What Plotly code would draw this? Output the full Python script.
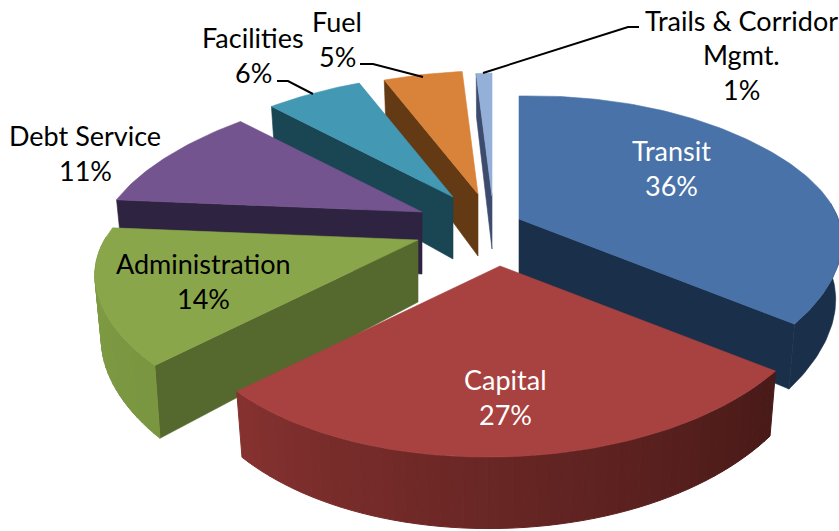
import math
import plotly.graph_objects as go

# ---- data ----
categories = ["Transit", "Capital", "Administration", "Debt Service",
              "Facilities", "Fuel", "Trails & Corridor Mgmt."]
shares = [36, 27, 14, 11, 6, 5, 1]
label_lines = [["Transit", "36%"], ["Capital", "27%"], ["Administration", "14%"],
               ["Debt Service", "11%"], ["Facilities", "6%"], ["Fuel", "5%"],
               ["Trails & Corridor", "Mgmt.", "1%"]]

# ---- styling / placement ----
W, H = 839, 531
RX, RY, PERSP, SHEAR, SHRINK, BULGE = 306.0, 149.6, 0.2166, 0.02, 0.98, 0.035
hub = [(519, 219), (500, 266), (418, 240), (422, 212), (453, 197), (478, 194), (492, 196)]
depth = [56, 56, 62, 62, 62, 62, 53]
top_col = ["#4872a8", "#a84240", "#8aa64a", "#74548f", "#4398b4", "#d98239", "#95b0d8"]
cut_col = ["#1a2f4a", "#4a1a18", "#55692f", "#2e2340", "#1a4553", "#633a13", "#3d4c6e"]
wall_start = [(26, 47, 74), (72, 26, 24), (122, 150, 64), (46, 35, 64), (26, 69, 83), (99, 58, 19), (61, 76, 110)]
wall_end = [(26, 47, 74), (134, 50, 48), (128, 156, 68), (46, 35, 64), (26, 69, 83), (99, 58, 19), (61, 76, 110)]
draw_order = [6, 5, 4, 3, 0, 2, 1]
label_pos = [(671, 35), (505, 35), (203, 35), (85, 35), (253, 35), (337, 35), (741, 34.5)]
label_y = [150, 379, 263, 135, 37, 21, 20]
label_col = ["white", "white", "black", "black", "black", "black", "black"]
FONT = "Lato"
FONT_SIZE = 27
leaders = [
    [(277, 81), (288, 81), (313, 94)],
    [(360, 64), (373, 64), (423, 77)],
    [(639, 27), (628, 27), (483, 73)],
]


def project(i, theta, radius=1.0, bottom=False):
    """theta: degrees clockwise from twelve o'clock, on the pie disc."""
    t = math.radians(theta)
    u, v = radius * math.sin(t), -radius * math.cos(t)
    w = 1 - PERSP * v
    x = RX * u / w * (1 + BULGE * abs(u) ** 6)
    y = RY * v / w - SHEAR * x
    hx, hy = hub[i]
    if bottom:
        return hx + x * SHRINK, hy + y + depth[i] / w
    return hx + x, hy + y


fig = go.Figure()


def poly(pts, color, lw=0.6):
    xs = [p[0] for p in pts] + [pts[0][0]]
    ys = [p[1] for p in pts] + [pts[0][1]]
    fig.add_trace(go.Scatter(x=xs, y=ys, mode="lines", fill="toself", fillcolor=color,
                             line=dict(color=color, width=lw), hoverinfo="skip",
                             showlegend=False))


starts = []
acc = 0
for s in shares:
    starts.append(acc * 3.6)
    acc += s

for i in draw_order:
    a0 = starts[i]
    a1 = a0 + shares[i] * 3.6
    for ang, normal in ((a0, a0 - 90), (a1, a1 + 90)):
        if -math.cos(math.radians(normal)) > 0.01:
            poly([project(i, ang, 0), project(i, ang), project(i, ang, 1, True),
                  project(i, ang, 0, True)], cut_col[i])
    n = max(6, int(shares[i] * 2))
    thetas = [a0 + (a1 - a0) * k / n for k in range(n + 1)]
    front = [t for t in thetas if -math.cos(math.radians(t)) >= -0.08]
    if wall_start[i] == wall_end[i]:
        if len(front) > 1:
            fine = [front[0] + (front[-1] - front[0]) * k / 40 for k in range(41)]
            poly([project(i, t) for t in fine] + [project(i, t, 1, True) for t in reversed(fine)],
                 "rgb(%d,%d,%d)" % wall_start[i])
    else:
        for k in range(len(front) - 1):
            t0, t1 = front[k], front[k + 1]
            f = (k + 0.5) / (len(front) - 1)
            rgb = tuple(int(wall_start[i][c] + (wall_end[i][c] - wall_start[i][c]) * f) for c in range(3))
            poly([project(i, t0), project(i, t1), project(i, t1, 1, True), project(i, t0, 1, True)],
                 "rgb(%d,%d,%d)" % rgb, lw=1)
    n = max(8, int(shares[i] * 3))
    pts = [project(i, a0, 0)] + [project(i, a0 + (a1 - a0) * k / n) for k in range(n + 1)]
    poly(pts, top_col[i])

for path in leaders:
    fig.add_trace(go.Scatter(x=[p[0] for p in path], y=[p[1] for p in path], mode="lines",
                             line=dict(color="black", width=2), hoverinfo="skip", showlegend=False))

for i, lines in enumerate(label_lines):
    for j, text in enumerate(lines):
        fig.add_annotation(x=label_pos[i][0], y=label_y[i] + j * label_pos[i][1], text=text,
                           xref="x", yref="y", showarrow=False, xanchor="center", yanchor="middle",
                           font=dict(family=FONT, size=FONT_SIZE, color=label_col[i]))

fig.update_layout(width=W, height=H, margin=dict(l=0, r=0, t=0, b=0), paper_bgcolor="white",
                  plot_bgcolor="white", showlegend=False,
                  xaxis=dict(range=[0, W], visible=False, fixedrange=True),
                  yaxis=dict(range=[H, 0], visible=False, fixedrange=True))
fig.write_html("out.html", config={"displayModeBar": False},
               post_script="document.body.style.margin='0';document.documentElement.style.overflow='hidden';")
